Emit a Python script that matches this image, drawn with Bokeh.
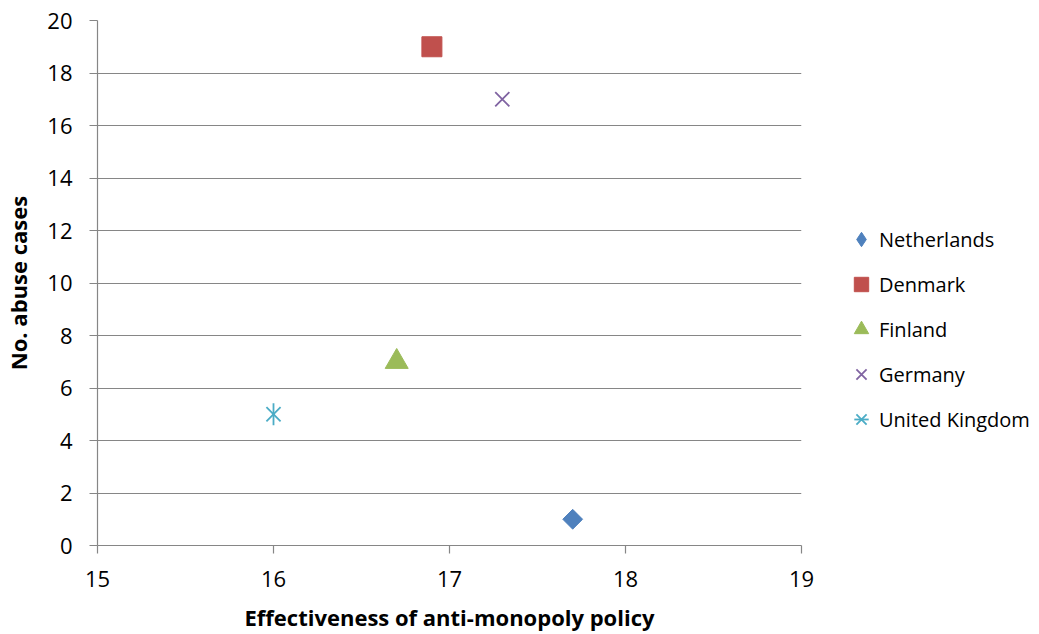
import math
from bokeh.plotting import figure
from bokeh.models import Range1d, Legend, LegendItem, FixedTicker, ColumnDataSource
from bokeh.layouts import row
from bokeh.embed import file_html
from bokeh.resources import INLINE

countries = ["Netherlands", "Denmark", "Finland", "Germany", "United Kingdom"]
effectiveness = [17.7, 16.9, 16.7, 17.3, 16.0]
abuse_cases = [1, 19, 7, 17, 5]
colors = ["#4F81BD", "#C0504D", "#9BBB59", "#8064A2", "#4BACC6"]

x_ticks = [15, 16, 17, 18, 19]
y_ticks = [0, 2, 4, 6, 8, 10, 12, 14, 16, 18, 20]

FONT = "Open Sans"
GRID = "#868686"

p = figure(width=830, height=634, output_backend="svg", toolbar_location=None,
           x_range=Range1d(15, 19), y_range=Range1d(0, 20),
           min_border_left=96, min_border_right=29, min_border_top=20, min_border_bottom=89)
p.outline_line_color = None
p.xgrid.grid_line_color = None
p.ygrid.grid_line_color = GRID
p.ygrid.grid_line_width = 1.2

for ax in (p.xaxis[0], p.yaxis[0]):
    ax.axis_line_color = GRID
    ax.axis_line_width = 1.2
    ax.major_tick_line_color = GRID
    ax.major_tick_line_width = 1.2
    ax.major_tick_out = 8
    ax.major_tick_in = 0
    ax.minor_tick_line_color = None
    ax.major_label_text_font = FONT
    ax.major_label_text_font_size = "22px"
    ax.major_label_text_color = "#000000"
    ax.axis_label_text_font = FONT
    ax.axis_label_text_font_size = "22px"
    ax.axis_label_text_font_style = "bold"
    ax.axis_label_text_color = "#000000"

p.xaxis.ticker = FixedTicker(ticks=x_ticks)
p.yaxis.ticker = FixedTicker(ticks=y_ticks)
p.xaxis.axis_label = "Effectiveness of anti-monopoly policy"
p.yaxis.axis_label = "No. abuse cases"
p.xaxis.major_label_standoff = 17
p.yaxis.major_label_standoff = 17
p.xaxis.axis_label_standoff = 12
p.yaxis.axis_label_standoff = 11


def add_series(fig, legend_markers=False):
    rs = []
    def src(i):
        return ColumnDataSource(dict(x=[effectiveness[i]], y=[abuse_cases[i]]))
    if legend_markers:
        rs.append([fig.scatter("x", "y", source=src(0), marker="diamond", size=20,
                               fill_color=colors[0], line_color=colors[0])])
    else:
        rs.append([fig.scatter("x", "y", source=src(0), marker="square", size=14, angle=math.pi / 4,
                               fill_color=colors[0], line_color=colors[0])])
    rs.append([fig.scatter("x", "y", source=src(1), marker="square", size=20,
                           fill_color=colors[1], line_color=colors[1])])
    rs.append([fig.scatter("x", "y", source=src(2), marker="triangle", size=23,
                           fill_color=colors[2], line_color=colors[2])])
    rs.append([fig.scatter("x", "y", source=src(3), marker="x", size=20,
                           line_color=colors[3], line_width=1.8)])
    rs.append([fig.scatter("x", "y", source=src(4), marker="x", size=20,
                           line_color=colors[4], line_width=1.8),
               fig.scatter("x", "y", source=src(4), marker="dash", size=22, angle=math.pi / 2,
                           line_color=colors[4], line_width=1.8)])
    return rs

add_series(p)

# Legend panel to the right (series drawn out of view, used only for legend entries)
p2 = figure(width=209, height=634, output_backend="svg", toolbar_location=None,
            x_axis_type=None, y_axis_type=None,
            x_range=Range1d(0, 1), y_range=Range1d(100, 101),
            min_border_left=0, min_border_right=0, min_border_top=0, min_border_bottom=0)
p2.outline_line_color = None
p2.xgrid.grid_line_color = None
p2.ygrid.grid_line_color = None
rs2 = add_series(p2, legend_markers=True)

items = [LegendItem(label=countries[i], renderers=rs2[i]) for i in range(len(countries))]
legend = Legend(items=items, location=(13, 108), orientation="vertical",
                label_text_font=FONT, label_text_font_size="20px", label_text_color="#000000",
                glyph_width=36, glyph_height=36, label_height=20, spacing=9,
                label_standoff=-8, padding=0, margin=0,
                border_line_color=None, background_fill_alpha=0)
p2.add_layout(legend, "center")

open("out.html", "w").write(file_html(row(p, p2), INLINE))
